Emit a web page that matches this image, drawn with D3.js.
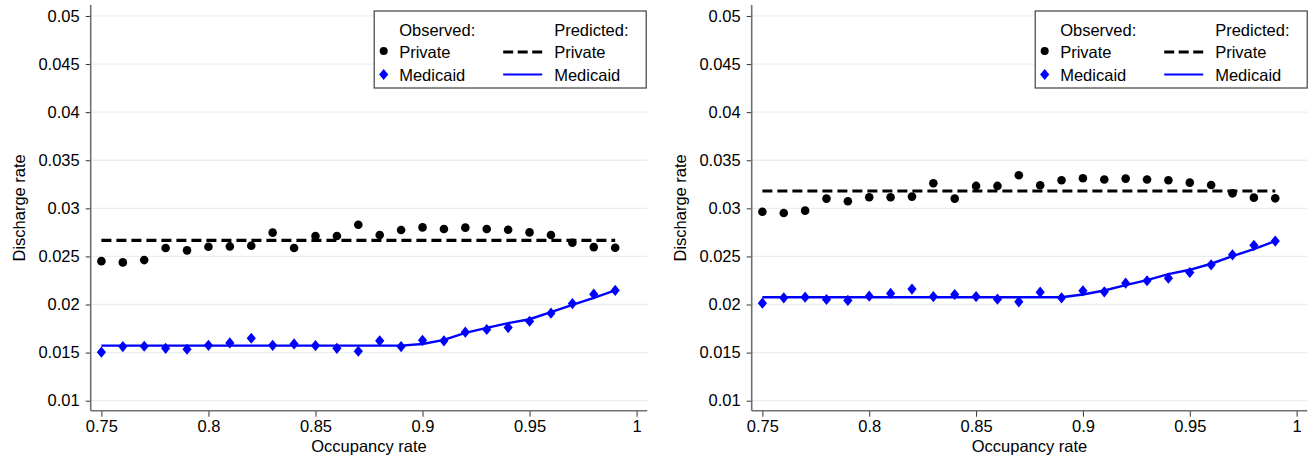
<!DOCTYPE html>
<html>
<head>
<meta charset="utf-8">
<script src="https://cdn.jsdelivr.net/npm/d3@7"></script>
<style>
  html, body { margin: 0; padding: 0; background: #fff; }
  svg { display: block; font-family: "Liberation Sans", Arial, sans-serif; }
</style>
</head>
<body>
<svg id="chart" width="1316" height="459"></svg>
<script>
// ---------------- DATA ----------------
const occupancy = [0.75,0.76,0.77,0.78,0.79,0.80,0.81,0.82,0.83,0.84,0.85,0.86,0.87,0.88,0.89,0.90,0.91,0.92,0.93,0.94,0.95,0.96,0.97,0.98,0.99];

// Left panel
const leftPrivateObs = [0.02451,0.02438,0.02462,0.02587,0.02563,0.02601,0.02604,0.02611,0.02747,0.02587,0.02712,0.02712,0.02830,0.02722,0.02774,0.02802,0.02785,0.02799,0.02785,0.02778,0.02750,0.02722,0.02642,0.02597,0.02590];
const leftPrivatePred = [0.02667,0.02667,0.02667,0.02667,0.02667,0.02667,0.02667,0.02667,0.02667,0.02667,0.02667,0.02667,0.02667,0.02667,0.02667,0.02667,0.02667,0.02667,0.02667,0.02667,0.02667,0.02667,0.02667,0.02667,0.02667];
const leftMedicaidObs = [0.01504,0.01563,0.01566,0.01545,0.01535,0.01576,0.01601,0.01649,0.01576,0.01590,0.01573,0.01545,0.01514,0.01622,0.01563,0.01628,0.01622,0.01712,0.01740,0.01760,0.01826,0.01910,0.02010,0.02108,0.02146];
const leftMedicaidPred = [0.01573,0.01573,0.01573,0.01573,0.01573,0.01573,0.01573,0.01573,0.01573,0.01573,0.01573,0.01573,0.01573,0.01573,0.01573,0.01590,0.01632,0.01705,0.01757,0.01806,0.01847,0.01920,0.01997,0.02069,0.02146];

// Right panel
const rightPrivateObs = [0.02965,0.02951,0.02976,0.03101,0.03073,0.03115,0.03115,0.03122,0.03260,0.03101,0.03233,0.03233,0.03344,0.03240,0.03292,0.03313,0.03299,0.03309,0.03299,0.03292,0.03267,0.03243,0.03156,0.03111,0.03104];
const rightPrivatePred = [0.03180,0.03180,0.03180,0.03180,0.03180,0.03180,0.03180,0.03180,0.03180,0.03180,0.03180,0.03180,0.03180,0.03180,0.03180,0.03180,0.03180,0.03180,0.03180,0.03180,0.03180,0.03180,0.03180,0.03180,0.03180];
const rightMedicaidObs = [0.02014,0.02070,0.02076,0.02052,0.02042,0.02087,0.02115,0.02160,0.02083,0.02104,0.02083,0.02056,0.02028,0.02128,0.02070,0.02142,0.02132,0.02222,0.02247,0.02274,0.02333,0.02413,0.02517,0.02615,0.02660];
const rightMedicaidPred = [0.02076,0.02076,0.02076,0.02076,0.02076,0.02076,0.02076,0.02076,0.02076,0.02076,0.02076,0.02076,0.02076,0.02076,0.02076,0.02104,0.02146,0.02201,0.02253,0.02316,0.02361,0.02424,0.02503,0.02576,0.02660];

const xTicks = [0.75,0.8,0.85,0.9,0.95,1];
const xTickLabels = ["0.75","0.8","0.85","0.9","0.95","1"];
const yTicks = [0.01,0.015,0.02,0.025,0.03,0.035,0.04,0.045,0.05];
const yTickLabels = ["0.01","0.015","0.02","0.025","0.03","0.035","0.04","0.045","0.05"];
const xTitle = "Occupancy rate";
const yTitle = "Discharge rate";
const legendHeaders = ["Observed:", "Predicted:"];
const legendSeries = ["Private", "Medicaid"];

// ---------------- DRAW ----------------
const svg = d3.select("#chart");
const BLUE = "#0000ff";
const AXIS = "#707070";
const GRID = "#e7eff3";
const FS = 16.5;

const panels = [
  {x0: 90.7, x1: 647.3, priv: leftPrivateObs, privPred: leftPrivatePred, med: leftMedicaidObs, medPred: leftMedicaidPred},
  {x0: 751.7, x1: 1307.3, priv: rightPrivateObs, privPred: rightPrivatePred, med: rightMedicaidObs, medPred: rightMedicaidPred}
];

const yTop = 5, yBot = 410.7;

panels.forEach(p => {
  const g = svg.append("g");
  const x = d3.scaleLinear().domain([0.745, 1.005]).range([p.x0, p.x1]);
  const y = d3.scaleLinear().domain([0.00896, 0.05114]).range([yBot, yTop]);

  // grid
  g.selectAll(".grid").data(yTicks).enter().append("line")
    .attr("x1", p.x0).attr("x2", p.x1)
    .attr("y1", d => y(d)).attr("y2", d => y(d))
    .attr("stroke", GRID).attr("stroke-width", 1.3);

  // y axis
  const yAxis = d3.axisLeft(y).tickValues(yTicks).tickSize(5).tickPadding(6)
    .tickFormat((d, i) => yTickLabels[i]);
  const ya = g.append("g").attr("transform", `translate(${p.x0},0)`).call(yAxis);
  ya.select(".domain").remove();
  ya.selectAll(".tick line").attr("stroke", "#333").attr("stroke-width", 1);
  ya.selectAll(".tick text").attr("font-size", FS).attr("fill", "#000")
    .attr("font-family", "Liberation Sans, Arial, sans-serif");
  g.append("line").attr("x1", p.x0).attr("x2", p.x0).attr("y1", yTop).attr("y2", yBot)
    .attr("stroke", AXIS).attr("stroke-width", 1.6);

  // x axis
  const xAxis = d3.axisBottom(x).tickValues(xTicks).tickSize(6).tickPadding(4)
    .tickFormat((d, i) => xTickLabels[i]);
  const xa = g.append("g").attr("transform", `translate(0,${yBot})`).call(xAxis);
  xa.select(".domain").remove();
  xa.selectAll(".tick line").attr("stroke", "#333").attr("stroke-width", 1);
  xa.selectAll(".tick text").attr("font-size", FS).attr("fill", "#000")
    .attr("font-family", "Liberation Sans, Arial, sans-serif");
  g.append("line").attr("x1", p.x0).attr("x2", p.x1).attr("y1", yBot).attr("y2", yBot)
    .attr("stroke", AXIS).attr("stroke-width", 1.6);

  // titles
  g.append("text").attr("x", (p.x0 + p.x1) / 2).attr("y", 452)
    .attr("text-anchor", "middle").attr("font-size", FS).text(xTitle);
  g.append("text").attr("transform", `translate(${p.x0 - 66},${(yTop + yBot) / 2}) rotate(-90)`)
    .attr("text-anchor", "middle").attr("font-size", FS).text(yTitle);

  // predicted lines
  const line = d3.line().x((d, i) => x(occupancy[i])).y(d => y(d));
  g.append("path").datum(p.privPred).attr("d", line)
    .attr("fill", "none").attr("stroke", "#000").attr("stroke-width", 3.2)
    .attr("stroke-dasharray", "10,5");
  g.append("path").datum(p.medPred).attr("d", line)
    .attr("fill", "none").attr("stroke", BLUE).attr("stroke-width", 2.4);

  // observed markers
  g.selectAll(".dot").data(p.priv).enter().append("circle")
    .attr("cx", (d, i) => x(occupancy[i])).attr("cy", d => y(d))
    .attr("r", 4.3).attr("fill", "#000");
  const diamond = (cx, cy) => `M${cx},${cy - 5.6}L${cx + 4.6},${cy}L${cx},${cy + 5.6}L${cx - 4.6},${cy}Z`;
  g.selectAll(".dia").data(p.med).enter().append("path")
    .attr("d", (d, i) => diamond(x(occupancy[i]), y(d))).attr("fill", BLUE);

  // legend
  const lx = p.x0 + 283.5, ly = 11, lw = 272, lh = 77;
  const lg = g.append("g");
  lg.append("rect").attr("x", lx).attr("y", ly).attr("width", lw).attr("height", lh)
    .attr("fill", "#fff").attr("stroke", "#404040").attr("stroke-width", 1.2);
  const rows = [29.5, 52, 74.5];
  const off = 6;
  lg.append("text").attr("x", lx + 25).attr("y", rows[0] + off).attr("font-size", FS).text(legendHeaders[0]);
  lg.append("text").attr("x", lx + 180).attr("y", rows[0] + off).attr("font-size", FS).text(legendHeaders[1]);
  lg.append("circle").attr("cx", lx + 9.5).attr("cy", rows[1] - 1).attr("r", 4).attr("fill", "#000");
  lg.append("path").attr("d", diamond(lx + 9.5, rows[2])).attr("fill", BLUE);
  lg.append("text").attr("x", lx + 25).attr("y", rows[1] + off).attr("font-size", FS).text(legendSeries[0]);
  lg.append("text").attr("x", lx + 25).attr("y", rows[2] + off).attr("font-size", FS).text(legendSeries[1]);
  lg.append("line").attr("x1", lx + 129).attr("x2", lx + 168).attr("y1", rows[1]).attr("y2", rows[1])
    .attr("stroke", "#000").attr("stroke-width", 3.2).attr("stroke-dasharray", "10,4.5");
  lg.append("line").attr("x1", lx + 129).attr("x2", lx + 168).attr("y1", rows[2]).attr("y2", rows[2])
    .attr("stroke", BLUE).attr("stroke-width", 2.2);
  lg.append("text").attr("x", lx + 180).attr("y", rows[1] + off).attr("font-size", FS).text(legendSeries[0]);
  lg.append("text").attr("x", lx + 180).attr("y", rows[2] + off).attr("font-size", FS).text(legendSeries[1]);
});
</script>
</body>
</html>
